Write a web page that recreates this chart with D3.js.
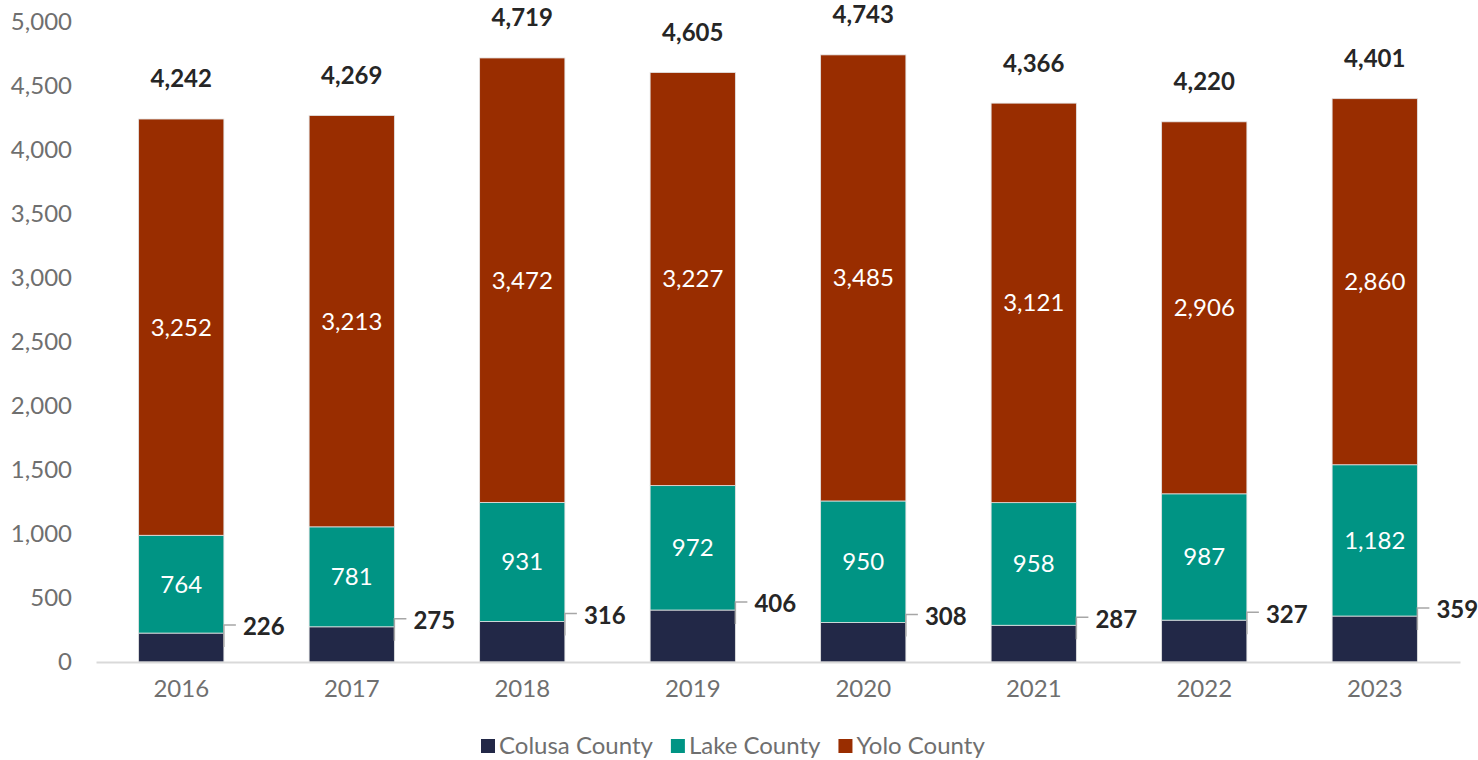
<!DOCTYPE html>
<html>
<head>
<meta charset="utf-8">
<script src="https://cdn.jsdelivr.net/npm/d3@7"></script>
<style>
  body { margin: 0; background: #fff; }
  text { font-family: Lato, "Open Sans", sans-serif; }
</style>
</head>
<body>
<svg id="chart" width="1478" height="760"></svg>
<script>
var years = ["2016", "2017", "2018", "2019", "2020", "2021", "2022", "2023"];
var colusa = [226, 275, 316, 406, 308, 287, 327, 359];
var lake = [764, 781, 931, 972, 950, 958, 987, 1182];
var yolo = [3252, 3213, 3472, 3227, 3485, 3121, 2906, 2860];
var totals = [4242, 4269, 4719, 4605, 4743, 4366, 4220, 4401];
var seriesNames = ["Colusa County", "Lake County", "Yolo County"];
var seriesColors = ["#222847", "#009484", "#992d00"];
var yTicks = [0, 500, 1000, 1500, 2000, 2500, 3000, 3500, 4000, 4500, 5000];

var svg = d3.select("#chart"),
    margin = {top: 22, right: 18, bottom: 98, left: 96},
    width = +svg.attr("width") - margin.left - margin.right,
    height = +svg.attr("height") - margin.top - margin.bottom;

var g = svg.append("g")
    .attr("transform", "translate(" + margin.left + "," + margin.top + ")");

// build rows for stack
var rows = years.map(function(y, i) {
  return {year: y, "Colusa County": colusa[i], "Lake County": lake[i], "Yolo County": yolo[i], total: totals[i]};
});

var stack = d3.stack().keys(seriesNames)(rows);

var x = d3.scaleBand().domain(years).range([0, width]).paddingInner(0.5).paddingOuter(0.25);
var y = d3.scaleLinear().domain([0, 5000]).range([height, 0]);
var color = d3.scaleOrdinal().domain(seriesNames).range(seriesColors);
var fmt = d3.format(",");

// y axis
var yAxis = g.append("g")
    .call(d3.axisLeft(y).tickValues(yTicks).tickFormat(fmt).tickSize(0).tickPadding(24));
yAxis.select(".domain").remove();
yAxis.selectAll("text")
    .attr("fill", "#6f6f6f")
    .style("font-size", "24px")
    .style("font-family", "Lato");

// bars
var layer = g.selectAll(".layer")
    .data(stack)
  .enter().append("g")
    .attr("class", "layer")
    .attr("fill", function(d) { return color(d.key); });

layer.selectAll("rect")
    .data(function(d) { return d; })
  .enter().append("rect")
    .attr("x", function(d) { return x(d.data.year); })
    .attr("y", function(d) { return y(d[1]); })
    .attr("height", function(d) { return y(d[0]) - y(d[1]); })
    .attr("width", x.bandwidth())
    .attr("stroke", "#e3e3e3")
    .attr("stroke-width", 0.8);

// x axis
var xAxis = g.append("g")
    .attr("transform", "translate(0," + height + ")")
    .call(d3.axisBottom(x).tickSize(0).tickPadding(18));
xAxis.select(".domain").attr("stroke", "#d9d9d9").attr("stroke-width", 2);
xAxis.selectAll("text")
    .attr("fill", "#6f6f6f")
    .style("font-size", "24px")
    .style("font-family", "Lato");

// labels inside Lake and Yolo segments
stack.slice(1).forEach(function(s) {
  g.append("g").selectAll("text")
      .data(s)
    .enter().append("text")
      .attr("x", function(d) { return x(d.data.year) + x.bandwidth() / 2; })
      .attr("y", function(d) { return y((d[0] + d[1]) / 2); })
      .attr("dy", "0.35em")
      .attr("text-anchor", "middle")
      .attr("fill", "#fff")
      .style("font-size", "24px")
      .text(function(d) { return fmt(d[1] - d[0]); });
});

// Colusa labels with leader lines
var col = g.append("g").selectAll("g")
    .data(stack[0])
  .enter().append("g");

col.append("path")
    .attr("fill", "none")
    .attr("stroke", "#a6a6a6")
    .attr("stroke-width", 1.5)
    .attr("d", function(d) {
      var bx = x(d.data.year) + x.bandwidth();
      var ly = y(d[1]) - 8;
      return "M" + bx + "," + (y(d[1]) + 14) + "L" + bx + "," + ly + "L" + (bx + 12) + "," + ly;
    });

col.append("text")
    .attr("x", function(d) { return x(d.data.year) + x.bandwidth() + 19; })
    .attr("y", function(d) { return y(d[1]) - 6; })
    .attr("dy", "0.35em")
    .attr("fill", "#262626")
    .attr("font-weight", "bold")
    .style("font-size", "24px")
    .text(function(d) { return fmt(d[1]); });

// totals
g.append("g").selectAll("text")
    .data(rows)
  .enter().append("text")
    .attr("x", function(d) { return x(d.year) + x.bandwidth() / 2; })
    .attr("y", function(d) { return y(d.total) - 40; })
    .attr("dy", "0.35em")
    .attr("text-anchor", "middle")
    .attr("fill", "#262626")
    .attr("font-weight", "bold")
    .style("font-size", "24px")
    .text(function(d) { return fmt(d.total); });

// legend
var legend = svg.append("g")
    .attr("transform", "translate(481,746)");

var offset = 0;
seriesNames.forEach(function(name) {
  var item = legend.append("g").attr("transform", "translate(" + offset + ",0)");
  item.append("rect")
      .attr("x", 0)
      .attr("y", -7)
      .attr("width", 14)
      .attr("height", 14)
      .attr("fill", color(name));
  var t = item.append("text")
      .attr("x", 18)
      .attr("y", 0)
      .attr("dy", "0.35em")
      .attr("fill", "#6f6f6f")
      .style("font-size", "24px")
      .text(name);
  offset += 18 + t.node().getComputedTextLength() + 18;
});
</script>
</body>
</html>
